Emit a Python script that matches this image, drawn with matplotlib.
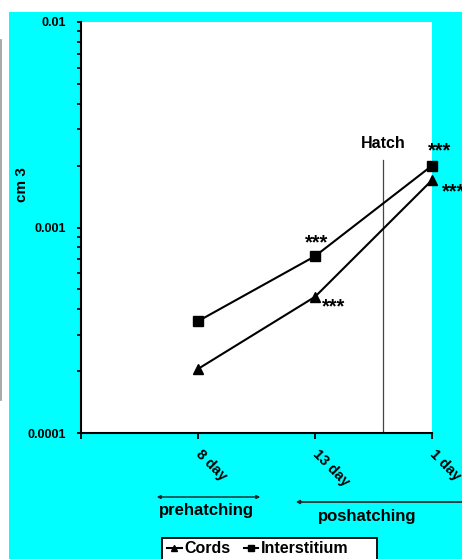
import matplotlib
matplotlib.use("Agg")
import matplotlib.pyplot as plt
from matplotlib.patches import Rectangle, FancyArrowPatch
from matplotlib.lines import Line2D

plt.rcParams['font.family'] = ['Liberation Sans', 'DejaVu Sans']
plt.rcParams['font.weight'] = 'bold'

categories = ["8 day", "13 day", "1 day"]
cords = [2.05e-4, 4.6e-4, 1.70e-3]
interstitium = [3.5e-4, 7.25e-4, 2.0e-3]
y_ticks = [0.0001, 0.001, 0.01]
y_ticklabels = ["0.0001", "0.001", "0.01"]
hatch_pos = 2.58

W, H = 462, 559
fig = plt.figure(figsize=(W / 100, H / 100), dpi=100, facecolor='white')
# cyan background
fig.patches.append(Rectangle((9 / W, 0), 1 - 9 / W, 1 - 12 / H, transform=fig.transFigure,
                             facecolor='#00FFFF', edgecolor='none', zorder=-10))
fig.lines.append(Line2D([0.7 / W, 0.7 / W], [1 - 40 / H, 1 - 400 / H], transform=fig.transFigure,
                        color='#999999', lw=1.2, zorder=-5))

ax = fig.add_axes([81 / W, 1 - 433 / H, (432 - 81) / W, (433 - 22) / H])
ax.set_zorder(1)
ax.set_facecolor('white')
ax.set_yscale('log')
ax.set_ylim(1e-4, 1e-2)
ax.set_xlim(0, 3)
x = [1, 2, 3]

ax.plot(x, cords, color='black', lw=1.5, marker='^', markersize=6.5, clip_on=False, zorder=5)
ax.plot(x, interstitium, color='black', lw=1.5, marker='s', markersize=6.5, clip_on=False, zorder=5)

ax.plot([hatch_pos, hatch_pos], [1e-4, 10 ** (-4 + (433 - 160) / 205.5)], color='#444444', lw=0.9)
ax.text(hatch_pos, 10 ** (-4 + (433 - 143) / 205.5), "Hatch", ha='center', va='center',
        fontsize=11.5, fontweight='bold')

for spine in ['top', 'right']:
    ax.spines[spine].set_visible(False)
for spine in ['left', 'bottom']:
    ax.spines[spine].set_linewidth(1.5)

ax.set_yticks(y_ticks)
ax.set_yticklabels(y_ticklabels, fontsize=9, fontweight='bold')
ax.tick_params(axis='y', which='major', length=3, width=1.3, pad=7.5)
ax.tick_params(axis='y', which='minor', length=3, width=1.2)
ax.yaxis.set_minor_formatter(matplotlib.ticker.NullFormatter())

ax.set_xticks([0, 1, 2, 3])
ax.set_xticklabels([""] + categories, fontsize=10.5, fontweight='bold', rotation=-45,
                   ha='left', va='center', rotation_mode='anchor')
ax.tick_params(axis='x', length=4, width=1.3, pad=9.5)

fig.text(22 / W, 1 - 185 / H, "cm 3", rotation=90, ha='center', va='center',
         fontsize=11, fontweight='bold')

# significance markers
def star(xp, yp, ha='center'):
    fig.text(xp / W, 1 - yp / H, "***", ha=ha, va='center', fontsize=14.5, fontweight='bold',
             zorder=10)

star(317, 243)
star(322, 307, ha='left')
star(428, 151, ha='left')
star(442, 192, ha='left')

# prehatching / poshatching arrows
fig.patches.append(FancyArrowPatch((154 / W, 1 - 497 / H), (263 / W, 1 - 497 / H),
                                   transform=fig.transFigure, arrowstyle='<|-|>',
                                   mutation_scale=5, color='#222222', lw=1.0))
fig.text(206 / W, 1 - 510 / H, "prehatching", ha='center', va='center', fontsize=12, fontweight='bold')
fig.patches.append(FancyArrowPatch((293 / W, 1 - 502 / H), (470 / W, 1 - 502 / H),
                                   transform=fig.transFigure, arrowstyle='<|-',
                                   mutation_scale=5, color='#222222', lw=1.2))
fig.text(367 / W, 1 - 516 / H, "poshatching", ha='center', va='center', fontsize=12, fontweight='bold')

# legend box (wider than its content, as in the reference)
fig.patches.append(Rectangle((162 / W, -0.01), (377 - 162) / W, (1 - 538 / H) + 0.01,
                             transform=fig.transFigure, facecolor='white', edgecolor='black',
                             lw=1.3, zorder=8))
handles = [Line2D([], [], color='black', lw=1.5, marker='^', markersize=5),
           Line2D([], [], color='black', lw=1.5, marker='s', markersize=5)]
leg = fig.legend(handles, ["Cords", "Interstitium"], loc='upper left',
                 bbox_to_anchor=(164 / W, 1 - 538 / H), ncol=2,
                 prop={'weight': 'bold', 'size': 11.5}, frameon=False,
                 handlelength=0.9, handletextpad=0.2, columnspacing=0.8,
                 borderpad=0.2, borderaxespad=0)
leg.set_zorder(9)

fig.savefig("out.png", dpi=100, facecolor='white')
